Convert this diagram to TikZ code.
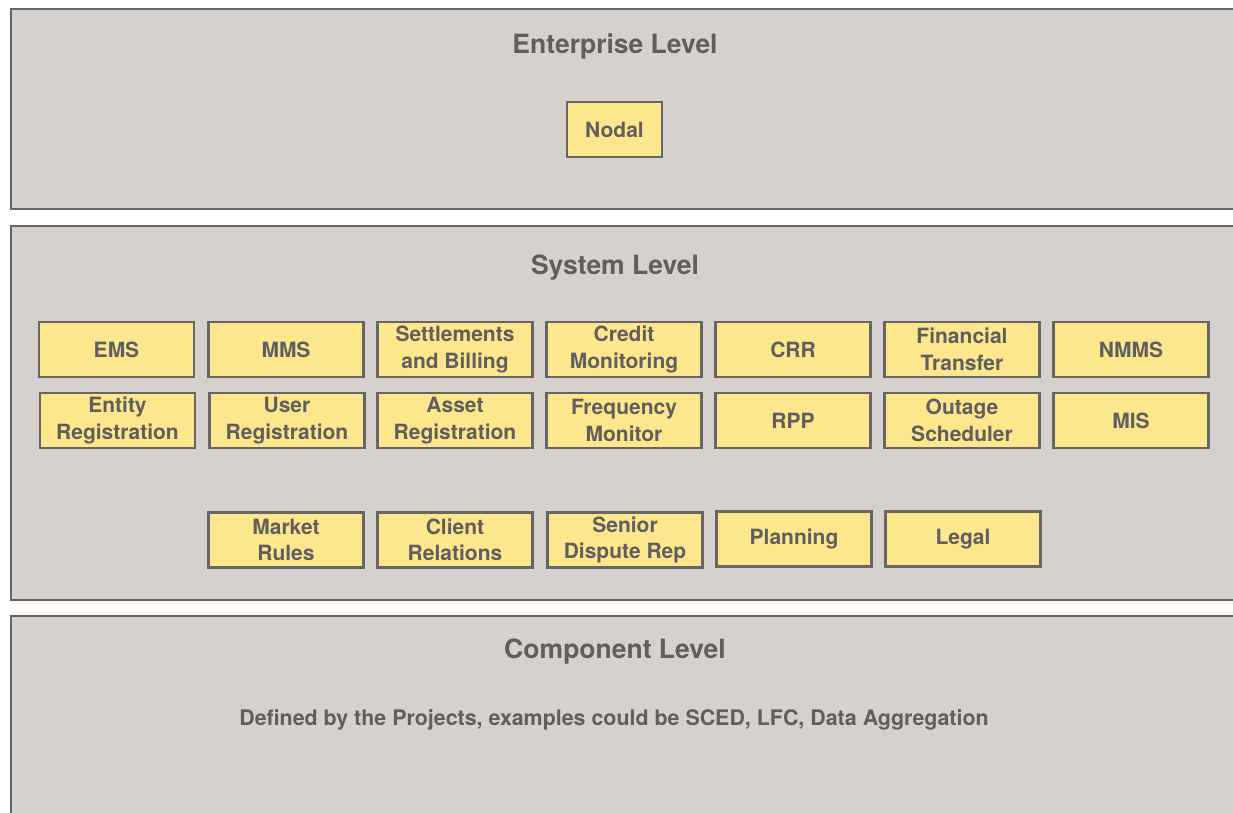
\documentclass[tikz,border=0pt]{standalone}
\usepackage{fontspec}
\setmainfont{TeX Gyre Heros}
\definecolor{panelfill}{HTML}{D6D1CD}
\definecolor{edge}{HTML}{666666}
\definecolor{ink}{HTML}{5F5F5F}
\definecolor{boxfill}{HTML}{FDE78C}
\tikzset{
  panel/.style={draw=edge, fill=panelfill, line width=2.6pt},
  title/.style={text=ink, font=\fontsize{26.5}{31}\selectfont\bfseries, anchor=center},
  module/.style={draw=edge, fill=boxfill, line width=2.6pt, minimum width=155pt,
    minimum height=55pt, inner sep=0pt, align=center, text=ink,
    font=\fontsize{21}{26.5}\selectfont\bfseries},
}
\begin{document}
\begin{tikzpicture}[x=1pt, y=-1pt]
\useasboundingbox (0,0) rectangle (1233,812);
\clip (0,0) rectangle (1233,812);
\fill[white] (0,0) rectangle (1233,812);

% three levels
\draw[panel] (11,9) rectangle (1245,209);
\draw[panel] (11,226) rectangle (1245,600);
\draw[panel] (11,616) rectangle (1245,830);

\node[title] (ent) at (615,46.5) {Enterprise Level};
\node[title] (sys) at (615,267.5) {System Level};
\node[title] (comp) at (615,651.5) {Component Level};

% enterprise
\node[module, minimum width=95pt] (nodal) at (614.5,129.5) {Nodal};

% system modules, first row
\node[module] (ems) at (116.5,349.5) {EMS};
\node[module] (mms) at (286,349.5) {MMS};
\node[module] (sab) at (455,349.5) {Settlements\\and Billing};
\node[module] (crm) at (624,349.5) {Credit\\Monitoring};
\node[module] (crr) at (793,349.5) {CRR};
\node[module] (fin) at (962,349.5) {Financial\\Transfer};
\node[module] (nmms) at (1131,349.5) {NMMS};

% second row
\node[module] (ent1) at (117.5,420.5) {Entity\\Registration};
\node[module] (usr) at (287,420.5) {User\\Registration};
\node[module] (ast) at (455,420.5) {Asset\\Registration};
\node[module] (frq) at (624,420.5) {Frequency\\Monitor};
\node[module] (rpp) at (793,420.5) {RPP};
\node[module] (out) at (962,420.5) {Outage\\Scheduler};
\node[module] (mis) at (1131,420.5) {MIS};

% third row
\node[module] (mkt) at (286,540) {Market\\Rules};
\node[module] (cli) at (455,540) {Client\\Relations};
\node[module] (sdr) at (625,540) {Senior\\Dispute Rep};
\node[module] (pln) at (794,539) {Planning};
\node[module] (leg) at (963,539) {Legal};

% component
\node[text=ink, font=\fontsize{21.4}{25}\selectfont\bfseries] (note) at (614,719.5)
  {Defined by the Projects, examples could be SCED, LFC, Data Aggregation};
\end{tikzpicture}
\end{document}
